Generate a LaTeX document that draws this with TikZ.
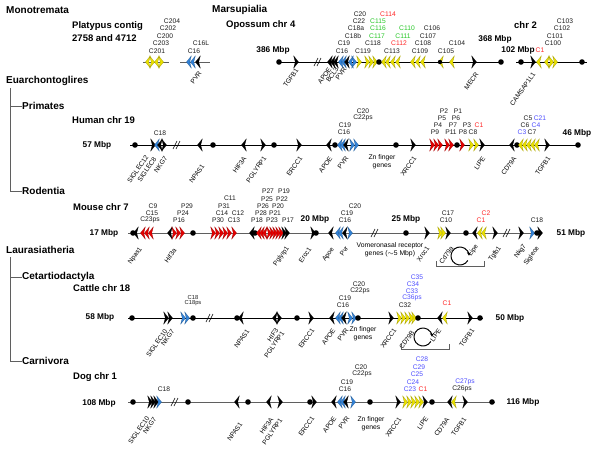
\documentclass[tikz,border=0pt]{standalone}
\usepackage{fontspec}
\setmainfont{Liberation Sans}
\usetikzlibrary{arrows.meta}
\definecolor{ylw}{RGB}{235,225,0}
\definecolor{rd}{RGB}{230,0,0}
\definecolor{bl}{RGB}{50,130,215}
\definecolor{tred}{RGB}{255,40,40}
\definecolor{tgrn}{RGB}{40,200,40}
\definecolor{tblu}{RGB}{80,80,255}
\definecolor{lgray}{RGB}{95,95,95}
\definecolor{txt}{RGB}{30,30,30}
\tikzset{
 gR/.pic={\path[fill=#1,draw=#1!70!black,line width=0.25pt] (-2.3,-6) -- (2.5,0) -- (-2.3,6) -- (-0.7,0) -- cycle;},
 gL/.pic={\path[fill=#1,draw=#1!70!black,line width=0.25pt] (2.3,-6) -- (-2.5,0) -- (2.3,6) -- (0.7,0) -- cycle;},
 glab/.style={font=\fontsize{6.7}{7.5}\selectfont,inner sep=0pt},
 rlab/.style={font=\fontsize{6.6}{7.5}\selectfont,inner sep=0pt,rotate=55,anchor=east},
 ttl/.style={font=\fontsize{10}{12}\selectfont\bfseries,inner sep=0pt,anchor=west},
 spc/.style={font=\fontsize{9.5}{11}\selectfont\bfseries,inner sep=0pt,anchor=west},
 mbp/.style={font=\fontsize{8.3}{10}\selectfont\bfseries,inner sep=0pt},
 zn/.style={font=\fontsize{6.8}{7.8}\selectfont,inner sep=0pt,align=center},
 chrom/.style={line width=0.8pt},
 tree/.style={line width=0.6pt,lgray},
 brack/.style={line width=0.7pt,lgray},
}
\newcommand\G[4]{\pic at (#1,#2) {g#3=#4};}
\newcommand\Dt[2]{\fill (#1,#2) circle[radius=2.8];}
\newcommand\Brk[2]{\draw[line width=0.6pt] (#1-4,#2+4) -- (#1,#2-4) (#1-1,#2+4) -- (#1+3,#2-4);}
\newcommand\Lb[4]{\node[glab,text=#4] (l#1-#2) at (#1,#2) {#3};}
\newcommand\Rl[3]{\node[rlab] (r#1-#2) at (#1,#2) {#3};}
\newcommand\Rot[2]{\draw[line width=1pt,-{Stealth[length=3.5pt,width=4pt]}] (#1,#2) ++(30:9) arc[start angle=30,end angle=358,radius=9];}
\begin{document}
\begin{tikzpicture}[x=1pt,y=-1pt]
\fill[white] (0,0) rectangle (600,448);
\useasboundingbox (0,0) rectangle (600,448);

% ---------- headings / tree ----------
\node[ttl] (mono) at (6,10) {Monotremata};
\node[ttl] (mars) at (212,10) {Marsupialia};
\node[spc] (plat1) at (72,26) {Platypus contig};
\node[spc] (plat2) at (72,38) {2758 and 4712};
\node[spc] (opo) at (226,25) {Opossum chr 4};
\node[spc] (chr2) at (514,25) {chr 2};
\node[mbp] (m386) at (273,50) {386 Mbp};
\node[mbp] (m368) at (495,39) {368 Mbp};
\node[mbp] (m102) at (518,50) {102 Mbp};

\node[ttl] (euar) at (6,81) {Euarchontoglires};
\node[ttl] (prim) at (22,106) {Primates};
\node[ttl] (rode) at (22,191) {Rodentia};
\node[ttl] (laur) at (6,250) {Laurasiatheria};
\node[ttl] (ceta) at (22,277) {Cetartiodactyla};
\node[ttl] (carn) at (22,361) {Carnivora};
\draw[tree] (10,88) -- (10,191) -- (rode.west);
\draw[tree] (10,106) -- (prim.west);
\draw[tree] (10,257) -- (10,361) -- (carn.west);
\draw[tree] (10,277) -- (ceta.west);

% ---------- Row 1: platypus ----------
\draw[chrom,lgray] (143,62) -- (169,62);
\G{148}{62}{L}{ylw} \G{152}{62}{R}{ylw} \G{157}{62}{L}{ylw} \G{161}{62}{R}{ylw}
\Lb{172}{21}{C204}{txt} \Lb{168}{28}{C202}{txt} \Lb{165}{36}{C200}{txt}
\Lb{161}{43}{C203}{txt} \Lb{157}{51}{C201}{txt}
\draw[chrom,lgray] (180,62) -- (210,62);
\G{189}{62}{L}{bl} \G{193}{62}{L}{bl} \G{198}{62}{L}{black}
\Lb{201}{43}{C16L}{txt} \Lb{194}{51}{C16}{txt}
\Rl{200}{72}{PVR}

% ---------- Row 1: opossum chr 4 ----------
\draw[chrom] (279,62) -- (501,62);
\Dt{279}{62} \G{296}{62}{R}{black} \Brk{318}{62}
\G{330}{62}{L}{black} \G{333}{62}{L}{black} \G{336}{62}{L}{black}
\G{341}{62}{L}{bl} \G{344}{62}{L}{bl} \G{347}{62}{L}{black} \G{351}{62}{L}{bl} \G{354}{62}{R}{bl}
\G{359}{62}{R}{ylw} \G{367}{62}{R}{ylw} \G{371}{62}{R}{ylw} \G{375}{62}{R}{ylw} \Dt{379}{62}
\G{384}{62}{L}{ylw} \G{388}{62}{L}{ylw} \G{393}{62}{L}{ylw} \G{398}{62}{L}{ylw}
\G{413}{62}{L}{ylw} \G{418}{62}{L}{ylw} \G{423}{62}{L}{ylw}
\G{441}{62}{L}{ylw} \fill (440,62) circle[radius=2.2];
\G{452}{62}{L}{ylw}
\G{474}{62}{R}{black} \Dt{501}{62}
\Lb{360}{14}{C20}{txt} \Lb{359}{21}{C22}{txt} \Lb{356}{28}{C18a}{txt}
\Lb{353}{36}{C18b}{txt} \Lb{344}{43}{C19}{txt} \Lb{342}{51}{C16}{txt}
\Lb{363}{51}{C119}{txt} \Lb{373}{43}{C118}{txt}
\Lb{377}{36}{C117}{tgrn} \Lb{378}{28}{C116}{tgrn} \Lb{378}{21}{C115}{tgrn} \Lb{388}{14}{C114}{tred}
\Lb{392}{51}{C113}{txt} \Lb{399}{43}{C112}{tred} \Lb{403}{36}{C111}{tgrn} \Lb{407}{28}{C110}{tgrn}
\Lb{420}{51}{C109}{txt} \Lb{423}{43}{C108}{txt} \Lb{428}{36}{C107}{txt} \Lb{432}{28}{C106}{txt}
\Lb{446}{51}{C105}{txt} \Lb{457}{43}{C104}{txt}
\Rl{297}{69}{TGFB1} \Rl{330}{68}{APOE} \Rl{337}{68}{BCL3} \Rl{345}{68}{PVR} \Rl{477}{73}{MECR}

% ---------- Row 1: chr 2 ----------
\draw[chrom] (516,62) -- (587,62);
\Dt{521}{62} \G{533}{62}{R}{black} \G{539}{62}{L}{ylw}
\G{547}{62}{L}{ylw} \G{551}{62}{R}{ylw} \G{555}{62}{R}{ylw} \Dt{582}{62}
\Lb{540}{50}{C1}{tred} \Lb{553}{43}{C100}{txt} \Lb{555}{36}{C101}{txt}
\Lb{562}{28}{C102}{txt} \Lb{565}{21}{C103}{txt}
\Rl{534}{73}{CAMSAP1L1}

% ---------- Row 2: human chr 19 ----------
\node[spc] (hum) at (72,120) {Human chr 19};
\node[mbp] (m57) at (97,145) {57 Mbp};
\node[mbp] (m46) at (577,133) {46 Mbp};
\draw[chrom] (130,145) -- (578,145);
\Dt{135}{145} \G{153}{145}{R}{black} \G{157}{145}{L}{bl} \G{160}{145}{L}{black} \G{164}{145}{R}{black}
\Brk{177}{145}
\G{200}{145}{L}{black} \Dt{213}{145} \G{244}{145}{L}{black} \G{263}{145}{R}{black} \Dt{274}{145}
\G{299}{145}{R}{black} \G{329}{145}{L}{black} \Dt{335}{145}
\G{340}{145}{L}{bl} \G{343}{145}{L}{bl} \G{346}{145}{L}{black} \G{352}{145}{R}{bl} \G{356}{145}{R}{bl}
\Dt{396}{145} \G{413}{145}{R}{black}
\G{432}{145}{R}{rd} \G{436}{145}{R}{rd} \G{440}{145}{R}{rd} \G{447}{145}{R}{rd} \G{451}{145}{R}{rd}
\Dt{457}{145} \G{462}{145}{R}{rd}
\G{471}{145}{R}{ylw} \G{476}{145}{R}{ylw} \G{482}{145}{R}{black}
\G{512}{145}{L}{black} \Dt{517}{145}
\G{521}{145}{L}{ylw} \G{525}{145}{L}{ylw} \G{529}{145}{L}{ylw} \G{533}{145}{L}{ylw} \G{537}{145}{L}{ylw}
\G{547}{145}{R}{black} \Dt{578}{145}
\Lb{160}{133}{C18}{txt}
\Lb{345}{125}{C19}{txt} \Lb{344}{132}{C16}{txt} \Lb{363}{111}{C20}{txt} \Lb{363}{118}{C22ps}{txt}
\Lb{444}{111}{P2}{txt} \Lb{458}{111}{P1}{txt} \Lb{442}{118}{P5}{txt} \Lb{456}{118}{P6}{txt}
\Lb{438}{125}{P4}{txt} \Lb{453}{125}{P7}{txt} \Lb{467}{125}{P3}{txt} \Lb{479}{125}{C1}{tred}
\Lb{435}{132}{P9}{txt} \Lb{451}{132}{P11}{txt} \Lb{463}{132}{P8}{txt} \Lb{473}{132}{C8}{txt}
\Lb{528}{118}{C5}{txt} \Lb{540}{118}{C21}{tblu} \Lb{525}{125}{C6}{txt} \Lb{536}{125}{C4}{tblu}
\Lb{522}{132}{C3}{tblu} \Lb{532}{132}{C7}{txt}
\node[zn] (znh) at (382,162) {Zn finger\\genes};
\Rl{147}{156}{SIGLEC12} \Rl{155}{158}{SIGLEC8} \Rl{166}{157}{NKG7} \Rl{203}{165}{NPAS1}
\Rl{245}{157}{HIF3A} \Rl{265}{157}{PGLYRP1} \Rl{301}{157}{ERCC1} \Rl{331}{157}{APOE}
\Rl{347}{157}{PVR} \Rl{415}{157}{XRCC1} \Rl{484}{157}{LIPE} \Rl{515}{157}{CD79A} \Rl{549}{157}{TGFB1}

% ---------- Row 3: mouse chr 7 ----------
\node[spc] (mou) at (73,207) {Mouse chr 7};
\node[mbp] (m17) at (104,233) {17 Mbp};
\node[mbp] (m20) at (315,219) {20 Mbp};
\node[mbp] (m25) at (406,219) {25 Mbp};
\node[mbp] (m51) at (571,233) {51 Mbp};
\draw[chrom,lgray] (128,233) -- (542,233);
\Dt{133}{233} \G{136}{233}{L}{black}
\G{143}{233}{L}{rd} \G{147}{233}{L}{rd} \G{151}{233}{L}{rd}
\G{170}{233}{L}{black} \G{174}{233}{R}{rd} \G{178}{233}{R}{rd} \G{182}{233}{R}{rd}
\Dt{193}{233}
\G{213}{233}{R}{rd} \G{217}{233}{R}{rd} \G{221}{233}{R}{rd} \G{225}{233}{R}{rd} \G{229}{233}{R}{rd} \G{234}{233}{R}{rd}
\G{252}{233}{L}{black} \Dt{255}{233} \G{259}{233}{L}{rd} \G{262}{233}{L}{rd} \G{265}{233}{L}{rd}
\G{269}{233}{R}{rd} \G{272}{233}{R}{rd} \G{275}{233}{R}{rd} \G{278}{233}{R}{rd} \G{281}{233}{R}{rd}
\G{284}{233}{R}{black} \G{287}{233}{R}{black}
\G{313}{233}{R}{black} \Dt{316}{233}
\G{331}{233}{L}{black} \G{338}{233}{L}{bl} \G{341}{233}{L}{bl} \G{345}{233}{L}{black} \G{350}{233}{R}{bl}
\Brk{375}{233} \Dt{406}{233} \G{427}{233}{R}{black}
\G{440}{233}{R}{ylw} \G{443}{233}{R}{ylw} \G{448}{233}{R}{black}
\Dt{466}{233} \G{475}{233}{L}{black} \G{480}{233}{L}{ylw} \G{484}{233}{L}{ylw}
\G{495}{233}{R}{black} \Brk{507}{233} \G{521}{233}{R}{black}
\G{532}{233}{R}{bl} \Dt{537}{233} \G{540}{233}{R}{black}
\Lb{153}{206}{C9}{txt} \Lb{152}{213}{C15}{txt} \Lb{150}{220}{C23ps}{txt}
\Lb{187}{206}{P29}{txt} \Lb{183}{213}{P24}{txt} \Lb{179}{220}{P16}{txt}
\Lb{230}{198}{C11}{txt} \Lb{224}{206}{P31}{txt} \Lb{222}{213}{C14}{txt} \Lb{238}{213}{C12}{txt}
\Lb{218}{220}{P30}{txt} \Lb{234}{220}{C13}{txt}
\Lb{268}{191}{P27}{txt} \Lb{284}{191}{P19}{txt} \Lb{267}{199}{P25}{txt} \Lb{282}{199}{P22}{txt}
\Lb{263}{206}{P26}{txt} \Lb{278}{206}{P20}{txt} \Lb{261}{213}{P28}{txt} \Lb{275}{213}{P21}{txt}
\Lb{257}{220}{P18}{txt} \Lb{272}{220}{P23}{txt} \Lb{288}{220}{P17}{txt}
\Lb{355}{206}{C20}{txt} \Lb{347}{213}{C19}{txt} \Lb{345}{220}{C16}{txt}
\Lb{448}{213}{C17}{txt} \Lb{446}{220}{C10}{txt}
\Lb{486}{213}{C2}{tred} \Lb{481}{220}{C1}{tred} \Lb{537}{220}{C18}{txt}
\node[zn] (vom) at (390,249.5) {Vomeronasal receptor\\genes ($\sim$5 Mbp)};
\Rl{141}{248}{Npas1} \Rl{175}{249}{Hif3a} \Rl{288}{247}{Pglyrp1} \Rl{310}{248}{Ercc1}
\Rl{333}{248}{Apoe} \Rl{347}{247}{Pvr} \Rl{428}{247}{Xrcc1} \Rl{452}{247}{Cd79a}
\Rl{477}{245}{Lipe} \Rl{500}{247}{Tgfb1} \Rl{525}{245}{Nkg7} \Rl{538}{247}{Siglece}
\draw[brack] (436,261) -- (436,266) -- (484,266) -- (484,261);
\Rot{460}{256}

% ---------- Row 4: cattle chr 18 ----------
\node[spc] (cat) at (73,288) {Cattle chr 18};
\node[mbp] (m58) at (100,317) {58 Mbp};
\node[mbp] (m50) at (510,318) {50 Mbp};
\draw[chrom] (128,318) -- (483,318);
\Dt{132}{318} \G{166}{318}{R}{black} \G{170}{318}{R}{black} \G{183}{318}{R}{bl} \G{187}{318}{R}{bl} \Dt{193}{318}
\Brk{210}{318} \Dt{237}{318} \G{241}{318}{L}{black} \G{275}{318}{L}{black} \G{279}{318}{R}{black} \Dt{297}{318}
\G{311}{318}{R}{black} \G{332}{318}{L}{black} \G{338}{318}{L}{bl} \G{341}{318}{L}{bl} \G{344}{318}{L}{black}
\G{350}{318}{R}{bl} \G{354}{318}{R}{bl} \Dt{358}{318}
\G{391}{318}{R}{black} \G{399}{318}{R}{ylw} \G{403}{318}{R}{ylw} \G{407}{318}{R}{ylw} \G{411}{318}{R}{ylw} \G{414}{318}{R}{ylw}
\Dt{418}{318}
\G{440}{318}{L}{black} \G{445}{318}{L}{ylw} \G{470}{318}{R}{black} \Dt{480}{318}
\node[glab,font=\fontsize{5.8}{6.5}\selectfont,text=txt] (c18c) at (193,297) {C18};
\node[glab,font=\fontsize{5.8}{6.5}\selectfont,text=txt] (c18psc) at (193,303) {C18ps};
\Lb{359}{284}{C20}{txt} \Lb{360}{291}{C22ps}{txt} \Lb{345}{298}{C19}{txt} \Lb{343}{305}{C16}{txt}
\Lb{417}{277}{C35}{tblu} \Lb{413}{284}{C34}{tblu} \Lb{412}{291}{C33}{tblu} \Lb{412}{298}{C36ps}{tblu}
\Lb{405}{305}{C32}{txt} \Lb{447}{303}{C1}{tred}
\node[zn] (znc) at (363,334) {Zn finger\\genes};
\Rl{166}{330}{SIGLEC10} \Rl{173}{330}{NKG7} \Rl{248}{330}{NPAS1} \Rl{277}{329}{HIF3}
\Rl{283}{332}{PGLYRP1} \Rl{313}{329}{ERCC1} \Rl{334}{329}{APOE} \Rl{347}{329}{PVR}
\Rl{395}{329}{XRCC1} \Rl{413}{331}{CD79B} \Rl{440}{329}{LIPE} \Rl{473}{329}{TGFB1}
\draw[brack] (401,344) -- (401,349) -- (449,349) -- (449,344);
\Rot{423}{337}

% ---------- Row 5: dog chr 1 ----------
\node[spc] (dog) at (73,377) {Dog chr 1};
\node[mbp] (m108) at (99,403) {108 Mbp};
\node[mbp] (m116) at (523,402) {116 Mbp};
\draw[chrom,lgray] (128,402) -- (495,402);
\Dt{133}{402} \G{150}{402}{R}{black} \G{153}{402}{R}{black} \G{156}{402}{R}{black} \G{159}{402}{R}{bl}
\Brk{175}{402} \Dt{188}{402}
\G{237}{402}{L}{black} \Dt{248}{402} \G{269}{402}{L}{black} \G{280}{402}{R}{black}
\Dt{310}{402} \G{314}{402}{R}{black} \G{334}{402}{L}{black} \G{340}{402}{L}{bl} \G{343}{402}{L}{bl}
\G{346}{402}{L}{black} \G{353}{402}{R}{bl} \Dt{370}{402}
\G{398}{402}{R}{black} \G{405}{402}{R}{ylw} \G{409}{402}{R}{ylw} \G{413}{402}{R}{ylw} \G{417}{402}{R}{ylw}
\G{421}{402}{R}{ylw} \G{425}{402}{R}{black} \Dt{432}{402}
\G{450}{402}{L}{black} \G{454}{402}{L}{ylw} \G{465}{402}{R}{black} \Dt{492}{402}
\Lb{164}{389}{C18}{txt}
\Lb{361}{367}{C20}{txt} \Lb{362}{374}{C22ps}{txt} \Lb{347}{382}{C19}{txt} \Lb{345}{389}{C16}{txt}
\Lb{422}{359}{C28}{tblu} \Lb{419}{367}{C29}{tblu} \Lb{417}{374}{C25}{tblu} \Lb{413}{382}{C24}{tblu}
\Lb{410}{389}{C23}{tblu} \Lb{423}{389}{C1}{tred}
\Lb{465}{382}{C27ps}{tblu} \Lb{462}{389}{C26ps}{txt}
\node[zn] (znd) at (371,424) {Zn finger\\genes};
\Rl{148}{417}{SIGLEC10} \Rl{155}{418}{NKG7} \Rl{241}{423}{NPAS1} \Rl{272}{418}{HIF3A}
\Rl{281}{419}{PGLYRP1} \Rl{313}{417}{ERCC1} \Rl{335}{417}{APOE} \Rl{348}{417}{PVR}
\Rl{400}{418}{XRCC1} \Rl{427}{417}{LIPE} \Rl{448}{418}{CD79A} \Rl{465}{418}{TGFB1}
\end{tikzpicture}
\end{document}
